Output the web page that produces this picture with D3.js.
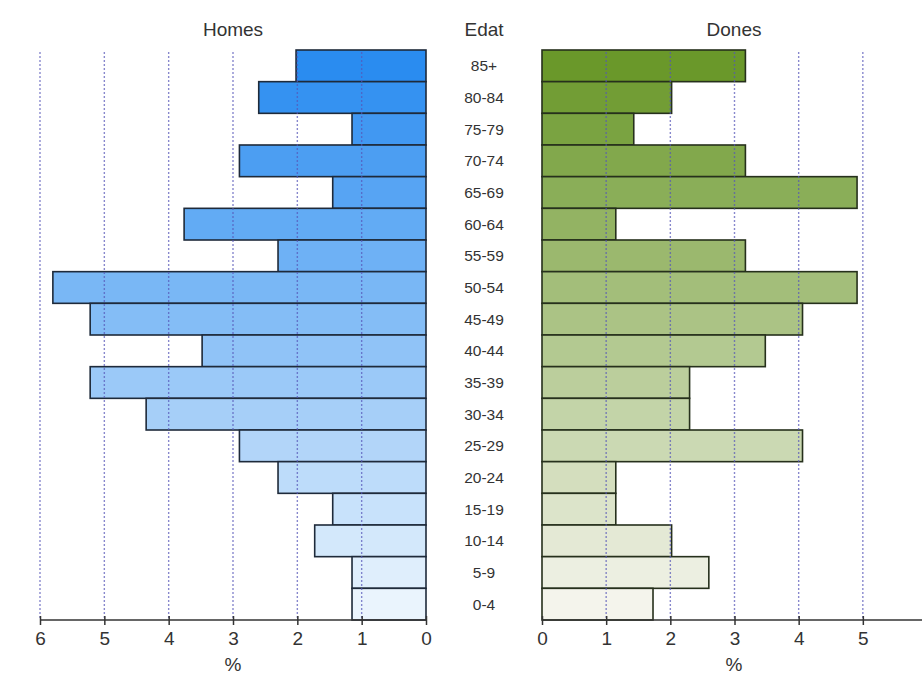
<!DOCTYPE html>
<html><head><meta charset="utf-8">
<script src="https://cdn.jsdelivr.net/npm/d3@7"></script>
<style>body{margin:0;background:#fff}svg{display:block}text{font-family:"Liberation Sans",Arial,sans-serif}</style>
</head><body>
<svg id="c" width="922" height="675"></svg>
<script>
const ages = ["85+","80-84","75-79","70-74","65-69","60-64","55-59","50-54","45-49","40-44","35-39","30-34","25-29","20-24","15-19","10-14","5-9","0-4"];
const homes = [2.02,2.6,1.15,2.9,1.45,3.76,2.3,5.8,5.22,3.48,5.22,4.35,2.9,2.3,1.45,1.73,1.15,1.15];
const dones = [3.17,2.02,1.43,3.17,4.91,1.15,3.17,4.91,4.06,3.48,2.3,2.3,4.06,1.15,1.15,2.02,2.6,1.73];
const tickVals = [0,1,2,3,4,5,6];

const svg = d3.select("#c");
const y = d3.scaleBand().domain(ages).range([50,620]).padding(0);
const xL = d3.scaleLinear().domain([0,6]).range([426,40]);
const xR = d3.scaleLinear().domain([0,6]).range([542,927]);
const blue = d3.interpolateRgb("#2a8cf0","#eaf4fd");
const green = d3.interpolateRgb("#6a982a","#f4f4ec");
const n = ages.length;

svg.append("g").selectAll("rect").data(ages).join("rect")
  .attr("x",(d,i)=>xL(homes[i])).attr("y",d=>y(d))
  .attr("width",(d,i)=>xL(0)-xL(homes[i])).attr("height",y.bandwidth())
  .attr("fill",(d,i)=>blue(i/(n-1)))
  .attr("stroke","#1e2a3a").attr("stroke-width",1.6);
svg.append("g").selectAll("rect").data(ages).join("rect")
  .attr("x",xR(0)).attr("y",d=>y(d))
  .attr("width",(d,i)=>xR(dones[i])-xR(0)).attr("height",y.bandwidth())
  .attr("fill",(d,i)=>green(i/(n-1)))
  .attr("stroke","#26301c").attr("stroke-width",1.6);

// gridlines over bars
function grid(x){
  svg.append("g").selectAll("line").data(tickVals.filter(d=>d>0)).join("line")
    .attr("x1",d=>x(d)).attr("x2",d=>x(d)).attr("y1",52).attr("y2",620)
    .attr("stroke","#5656b8").attr("stroke-opacity",0.7).attr("stroke-width",1.4).attr("stroke-dasharray","2,2");
}
grid(xL); grid(xR);

// axes
function axis(x){
  const g = svg.append("g").attr("transform","translate(0,620)")
    .call(d3.axisBottom(x).tickValues(tickVals).tickSize(5).tickFormat(d3.format("d")));
  g.select(".domain").attr("stroke","#333").attr("stroke-width",1.5).attr("d",`M${x.range()[0]},0H${x.range()[1]}`);
  g.selectAll(".tick line").attr("stroke","#333").attr("stroke-width",1.5).attr("y1",-4).attr("y2",5);
  g.selectAll(".tick text").attr("y",12).attr("font-size",19).attr("fill","#333").style("font-family","Liberation Sans, Arial, sans-serif");
}
axis(xL); axis(xR);

// age labels
svg.append("g").selectAll("text").data(ages).join("text")
  .attr("x",484).attr("y",d=>y(d)+y.bandwidth()/2+5.5)
  .attr("text-anchor","middle").attr("font-size",15.5).attr("fill","#333").text(d=>d);

// titles
svg.append("text").attr("x",233).attr("y",36).attr("text-anchor","middle").attr("font-size",19).attr("fill","#333").text("Homes");
svg.append("text").attr("x",484).attr("y",36).attr("text-anchor","middle").attr("font-size",19).attr("fill","#333").text("Edat");
svg.append("text").attr("x",734).attr("y",36).attr("text-anchor","middle").attr("font-size",19).attr("fill","#333").text("Dones");
svg.append("text").attr("x",233).attr("y",671).attr("text-anchor","middle").attr("font-size",19).attr("fill","#333").text("%");
svg.append("text").attr("x",734).attr("y",671).attr("text-anchor","middle").attr("font-size",19).attr("fill","#333").text("%");
</script>
</body></html>
